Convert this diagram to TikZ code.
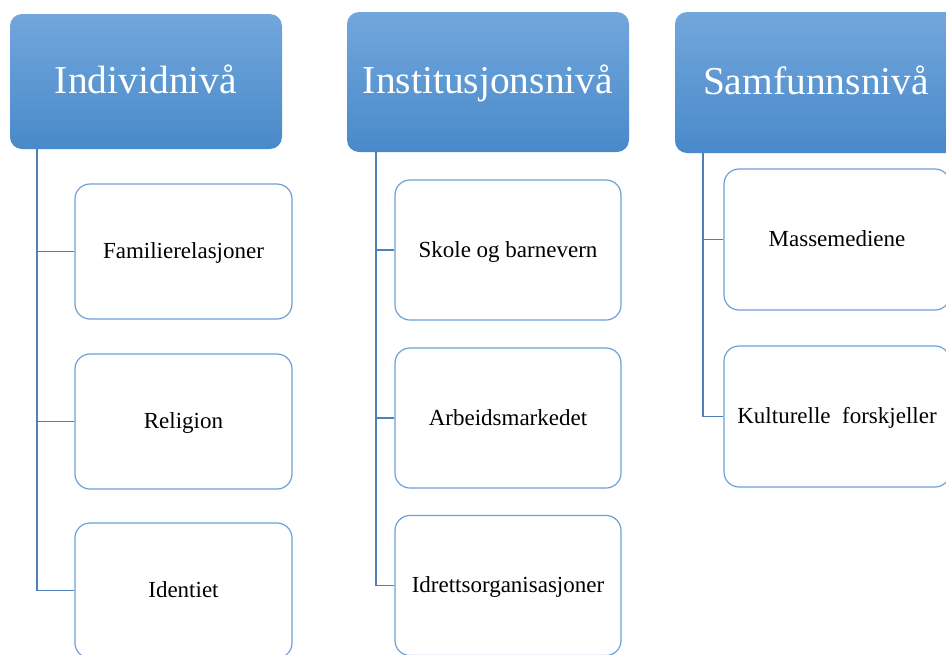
\documentclass[tikz,border=0pt]{standalone}
\usepackage{fontspec}
\setmainfont{Liberation Serif}
\definecolor{hdrtop}{RGB}{114,167,220}
\definecolor{hdrbot}{RGB}{73,137,202}
\definecolor{boxline}{RGB}{108,160,216}
\definecolor{connline}{RGB}{79,128,184}
\tikzset{
  hdr/.style={rectangle, rounded corners=12pt, top color=hdrtop, bottom color=hdrbot,
    draw=none, text=white, font=\fontsize{39.5}{46}\selectfont, inner sep=0pt,
    text height=28pt, text depth=5pt},
  child/.style={rectangle, rounded corners=15pt, draw=boxline, line width=1.2pt, fill=white,
    text=black, font=\fontsize{23}{28}\selectfont, inner sep=0pt,
    text height=17pt, text depth=3pt},
  conn/.style={draw=connline, line width=1.5pt}
}
\begin{document}
\begin{tikzpicture}[x=1pt,y=-1pt]
\useasboundingbox (0,0) rectangle (946,654);
\clip (0,0) rectangle (946,654);
\fill[white] (0,0) rectangle (946,654);
% headers
\node[hdr, minimum width=272pt, minimum height=135pt] (h1) at (146,81.5) {Individnivå};
\node[hdr, minimum width=282pt, minimum height=140pt] (h2) at (488,82) {Institusjonsnivå};
\node[hdr, minimum width=282pt, minimum height=141pt] (h3) at (816,82.5) {Samfunnsnivå};
% column 1
\node[child, minimum width=217pt, minimum height=135pt] (c11) at (183.5,251.5) {Familierelasjoner};
\node[child, minimum width=217pt, minimum height=135pt] (c12) at (183.5,421.5) {Religion};
\node[child, minimum width=217pt, minimum height=135pt] (c13) at (183.5,590.5) {Identiet};
% column 2
\node[child, minimum width=226pt, minimum height=140pt] (c21) at (508,250) {Skole og barnevern};
\node[child, minimum width=226pt, minimum height=140pt] (c22) at (508,418) {Arbeidsmarkedet};
\node[child, minimum width=226pt, minimum height=140pt] (c23) at (508,585.5) {Idrettsorganisasjoner};
% column 3
\node[child, minimum width=226pt, minimum height=141pt] (c31) at (837,239.5) {Massemediene};
\node[child, minimum width=226pt, minimum height=141pt] (c32) at (837,416.5) {Kulturelle\ \ forskjeller};
% connectors
\coordinate (v1) at (37,149);
\coordinate (v2) at (376,152);
\coordinate (v3) at (703,153);
\draw[conn] (v1) |- (c11.west);
\draw[conn] (v1) |- (c12.west);
\draw[conn] (v1) |- (c13.west);
\draw[conn] (v2) |- (c21.west);
\draw[conn] (v2) |- (c22.west);
\draw[conn] (v2) |- (c23.west);
\draw[conn] (v3) |- (c31.west);
\draw[conn] (v3) |- (c32.west);
\end{tikzpicture}
\end{document}
